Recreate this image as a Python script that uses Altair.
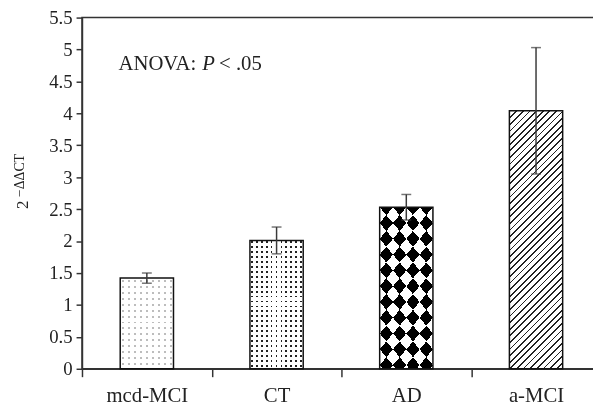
import math
import altair as alt
import pandas as pd

# ---- data ----
categories = ["mcd-MCI", "CT", "AD", "a-MCI"]
means = [1.42, 2.01, 2.53, 4.04]
errors = [0.08, 0.21, 0.20, 0.99]
y_ticks = [0, 0.5, 1, 1.5, 2, 2.5, 3, 3.5, 4, 4.5, 5, 5.5]
annotation_parts = ["ANOVA:", "P", "<", ".05"]
y_title_parts = ["2", "\u2212\u0394\u0394CT"]

# ---- layout ----
W_PLOT = 526
H_PLOT = 356
Y_MAX = 5.5
BAR_W = 54
FONT = "Liberation Serif"

df = pd.DataFrame({"group": categories, "mean": means, "err": errors})
df["lo"] = df["mean"] - df["err"]
df["hi"] = df["mean"] + df["err"]


def stripe_gradient(alpha, beta, W, H, period, on_start, on_end, on_color, off_color):
    """Linear gradient with hard stops giving stripes of s = alpha*x + beta*y (pixels)."""
    A, B = alpha * W, beta * H
    s_min = min(0, A) + min(0, B)
    s_max = max(0, A) + max(0, B)
    X0 = 0 if A >= 0 else 1
    Y0 = 0 if B >= 0 else 1
    U = s_max - s_min
    k = U / (A * A + B * B)

    def is_on(s):
        return ((s - on_start) % period) < (on_end - on_start)

    bps = []
    n = math.floor((s_min - on_start) / period) - 1
    while on_start + n * period <= s_max + period:
        for b in (on_start + n * period, on_end + n * period):
            if s_min < b < s_max:
                bps.append(b)
        n += 1
    bps.sort()
    cur = on_color if is_on(s_min + 1e-9) else off_color
    stops = [{"offset": 0, "color": cur}]
    for b in bps:
        t = round((b - s_min) / U, 5)
        nxt = on_color if is_on(b + 1e-9) else off_color
        stops.append({"offset": t, "color": cur})
        stops.append({"offset": t, "color": nxt})
        cur = nxt
    stops.append({"offset": 1, "color": cur})
    return {"gradient": "linear", "x1": X0, "y1": Y0,
            "x2": round(X0 + k * A, 6), "y2": round(Y0 + k * B, 6), "stops": stops}


px_per_unit = H_PLOT / Y_MAX
CLEAR = "rgba(255,255,255,0)"

x_axis = alt.Axis(title=None, labelAngle=0, labelFont=FONT, labelFontSize=21,
                  labelColor="#222", domainColor="#333", domainWidth=1.5,
                  tickColor="#333", tickWidth=1.5, tickSize=8,
                  tickBand="extent", labelPadding=8)
x_enc = alt.X("group:N", sort=categories,
              scale=alt.Scale(paddingInner=0, paddingOuter=0), axis=x_axis)
y_scale = alt.Scale(domain=[0, Y_MAX], nice=False, zero=True)
y_axis = alt.Axis(title=None, values=y_ticks, format="~g", labelFont=FONT,
                  labelFontSize=19, labelColor="#222", domainColor="#333",
                  domainWidth=1.5, tickColor="#333", tickWidth=1.5,
                  tickSize=6, labelPadding=4, grid=False, labelOverlap=False)


def y_of(field):
    return alt.Y(f"{field}:Q", scale=y_scale, axis=y_axis)


base = alt.Chart(df)
layers = []


def bar_layer(cat, fill, blend=None):
    kw = dict(fill=fill, width=BAR_W, strokeWidth=0)
    if blend:
        kw["blend"] = blend
    return (base.transform_filter(alt.datum.group == cat).mark_bar(**kw)
            .encode(x=x_enc, y=y_of("mean")))


heights = {c: m * px_per_unit for c, m in zip(categories, means)}

# mcd-MCI : fine light-grey dot grid
H = heights["mcd-MCI"]
layers.append(bar_layer("mcd-MCI", stripe_gradient(0, 1, BAR_W, H, 6, 2, 4, "#bdbdbd", "white")))
layers.append(bar_layer("mcd-MCI", stripe_gradient(1, 0, BAR_W, H, 6, 2, 4, CLEAR, "white")))

# CT : dark speckle dots
H = heights["CT"]
layers.append(bar_layer("CT", stripe_gradient(0, 1, BAR_W, H, 5, 1, 2.8, "#222", "white")))
layers.append(bar_layer("CT", stripe_gradient(1, 0, BAR_W, H, 5, 1, 2.8, CLEAR, "white")))

# AD : harlequin diamonds (XOR of two diagonal stripe sets)
H = heights["AD"]
dw, dh = 13.5, 16.0
layers.append(bar_layer("AD", stripe_gradient(2 / dw, 2 / dh, BAR_W, H, 4, 0, 2, "black", "white")))
layers.append(bar_layer("AD", stripe_gradient(2 / dw, -2 / dh, BAR_W, H, 4, 2, 4, "white", CLEAR),
                        blend="difference"))

# a-MCI : diagonal hatching
H = heights["a-MCI"]
layers.append(bar_layer("a-MCI", stripe_gradient(1, 1, BAR_W, H, 6.7, 0, 1.8, "#222", "white")))

# outlines
layers.append(base.mark_bar(fill="transparent", stroke="#111", strokeWidth=1.5, width=BAR_W)
              .encode(x=x_enc, y=y_of("mean")))

# error bars
layers.append(base.mark_rule(color="#3a3a3a", strokeWidth=1.5).encode(
    x=x_enc, y=y_of("lo"), y2="hi:Q"))
for fld in ["hi", "lo"]:
    layers.append(base.mark_tick(color="#3a3a3a", size=10, thickness=1.5, orient="horizontal")
                  .encode(x=x_enc, y=y_of(fld)))

# annotation "ANOVA: P < .05"
ann_x = [37, 122, 139, 156]
ann_style = ["normal", "italic", "normal", "normal"]
for txt, xx, st in zip(annotation_parts, ann_x, ann_style):
    layers.append(alt.Chart(pd.DataFrame({"t": [txt]})).mark_text(
        font=FONT, fontSize=21, fontStyle=st, color="#222", align="left", baseline="alphabetic")
        .encode(x=alt.value(xx), y=alt.value(53), text="t:N"))

# y-axis title 2^(−ΔΔCT)
layers.append(alt.Chart(pd.DataFrame({"t": [y_title_parts[0]]})).mark_text(
    font=FONT, fontSize=17, color="#222", angle=270, align="left", baseline="alphabetic")
    .encode(x=alt.value(-55), y=alt.value(194), text="t:N"))
layers.append(alt.Chart(pd.DataFrame({"t": [y_title_parts[1]]})).mark_text(
    font=FONT, fontSize=14, color="#222", angle=270, align="left", baseline="alphabetic")
    .encode(x=alt.value(-59), y=alt.value(182), text="t:N"))

chart = alt.layer(*layers).properties(
    width=W_PLOT, height=H_PLOT,
    autosize=alt.AutoSizeParams(type="none"),
    padding={"left": 75, "top": 7, "right": -8, "bottom": 35},
).configure(
    background="white",
    view=alt.ViewConfig(stroke="#333", strokeWidth=1.5),
)

chart.save("out.html", embed_options={"renderer": "svg", "actions": False})
